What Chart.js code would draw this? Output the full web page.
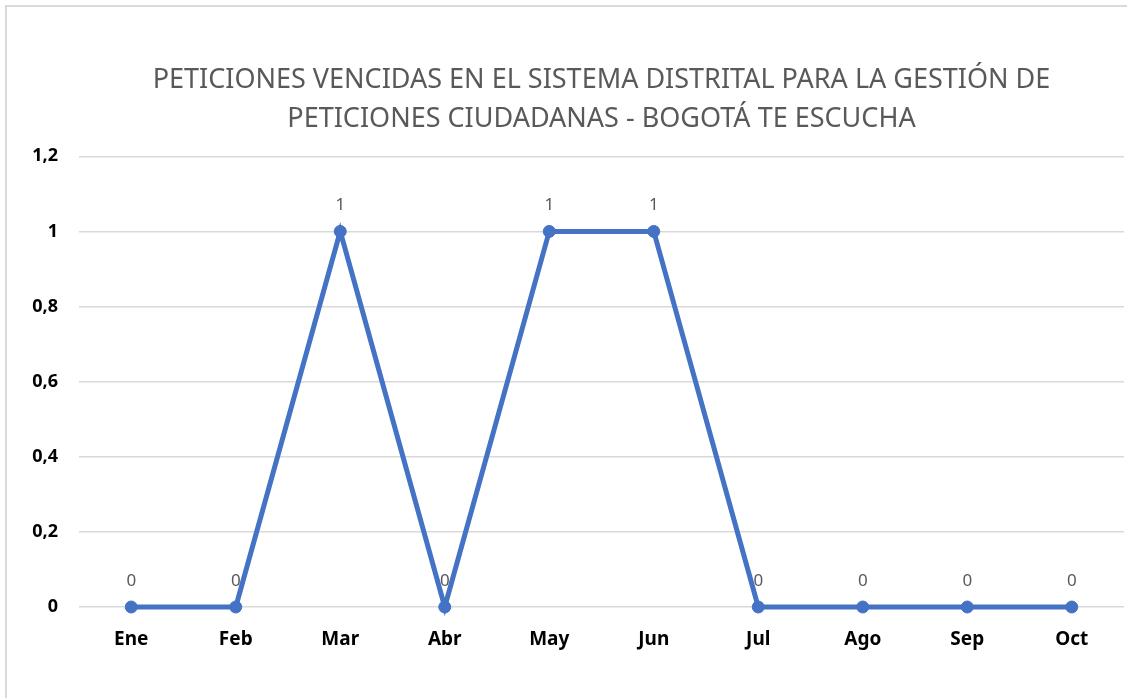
<!DOCTYPE html>
<html>
<head>
<meta charset="utf-8">
<script src="https://cdn.jsdelivr.net/npm/chart.js@4/dist/chart.umd.min.js"></script>
<style>
  html, body { margin: 0; padding: 0; background: #fff; overflow: hidden; }
  #frame { position: absolute; left: 5px; top: 5px; width: 1200px; height: 800px;
           border-left: 2px solid #d9d9d9; border-top: 2px solid #d9d9d9; }
  #lineChart { position: absolute; left: 0; top: 0; }
</style>
</head>
<body>
<div id="frame"></div>
<canvas id="lineChart" width="1127" height="698"></canvas>
<script>
var meses = ['Ene', 'Feb', 'Mar', 'Abr', 'May', 'Jun', 'Jul', 'Ago', 'Sep', 'Oct'];
var vencidas = [0, 0, 1, 0, 1, 1, 0, 0, 0, 0];
var tituloLineas = ['PETICIONES VENCIDAS EN EL SISTEMA DISTRITAL PARA LA GESTIÓN DE',
                    'PETICIONES CIUDADANAS - BOGOTÁ TE ESCUCHA'];

var fuente = "'Noto Sans', sans-serif";

// etiquetas de datos encima de cada punto
var etiquetasPlugin = {
    id: 'etiquetas',
    afterDatasetsDraw: function (chart) {
        var ctx = chart.ctx;
        var meta = chart.getDatasetMeta(0);
        ctx.save();
        ctx.font = '17px ' + fuente;
        ctx.fillStyle = '#595959';
        ctx.textAlign = 'center';
        ctx.textBaseline = 'middle';
        meta.data.forEach(function (pt, i) {
            ctx.fillText(String(vencidas[i]), pt.x, pt.y - 26);
        });
        ctx.restore();
    }
};

var ctxLine = document.getElementById('lineChart').getContext('2d');
var lineChart = new Chart(ctxLine, {
    type: 'line',
    data: {
        labels: meses,
        datasets: [{
            label: 'Vencidas',
            data: vencidas,
            borderColor: '#4472C4',
            backgroundColor: '#4472C4',
            borderWidth: 5,
            pointRadius: 6,
            pointBorderWidth: 1,
            pointBorderColor: '#4472C4',
            tension: 0,
            clip: false
        }]
    },
    options: {
        responsive: false,
        animation: false,
        layout: { autoPadding: false, padding: { left: 6, right: 3, top: 0, bottom: 29 } },
        plugins: {
            legend: { display: false },
            tooltip: { enabled: false },
            title: {
                display: true,
                fullSize: false,
                text: tituloLineas,
                color: '#595959',
                font: { family: fuente, size: 27, weight: 'normal', lineHeight: 1.45 },
                padding: { top: 61, bottom: 17 }
            }
        },
        scales: {
            x: {
                offset: true,
                grid: { display: false },
                border: { display: false },
                ticks: { color: '#000', padding: 13, font: { family: fuente, size: 19, weight: 'bold' } },
                afterFit: function (scale) { scale.height = 62; }
            },
            y: {
                min: 0,
                max: 1.2,
                grid: { color: '#d9d9d9', lineWidth: 1.5, drawTicks: false },
                border: { display: false },
                ticks: {
                    stepSize: 0.2,
                    color: '#000',
                    padding: 21,
                    font: { family: fuente, size: 18, weight: 'bold' },
                    callback: function (v) { return String(Number(v.toFixed(1))).replace('.', ','); }
                },
                afterFit: function (scale) { scale.width = 73; }
            }
        }
    },
    plugins: [etiquetasPlugin]
});
</script>
</body>
</html>
